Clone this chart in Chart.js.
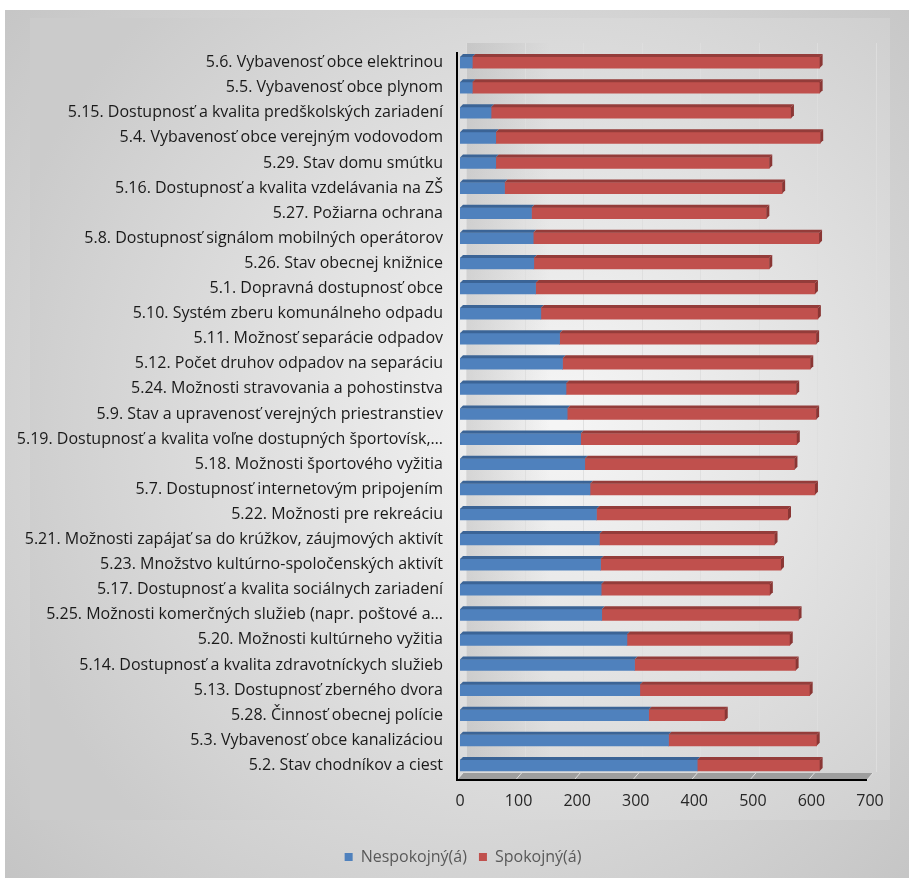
<!DOCTYPE html>
<html>
<head>
<meta charset="utf-8">
<script src="https://cdn.jsdelivr.net/npm/chart.js@4/dist/chart.umd.min.js"></script>
<style>
  html, body { margin: 0; padding: 0; background: #fff; }
  #wrap { position: relative; width: 909px; height: 881px; }
</style>
</head>
<body>
<div id="wrap"><canvas id="myChart" width="909" height="881"></canvas></div>
<script>
'use strict';

// data
var categories = [
  '5.6. Vybavenosť obce elektrinou',
  '5.5. Vybavenosť obce plynom',
  '5.15. Dostupnosť a kvalita predškolských zariadení',
  '5.4. Vybavenosť obce verejným vodovodom',
  '5.29. Stav domu smútku',
  '5.16. Dostupnosť a kvalita vzdelávania na ZŠ',
  '5.27. Požiarna ochrana',
  '5.8. Dostupnosť signálom mobilných operátorov',
  '5.26. Stav obecnej knižnice',
  '5.1. Dopravná dostupnosť obce',
  '5.10. Systém zberu komunálneho odpadu',
  '5.11. Možnosť separácie odpadov',
  '5.12. Počet druhov odpadov na separáciu',
  '5.24. Možnosti stravovania a pohostinstva',
  '5.9. Stav a upravenosť verejných priestranstiev',
  '5.19. Dostupnosť a kvalita voľne dostupných športovísk,…',
  '5.18. Možnosti športového vyžitia',
  '5.7. Dostupnosť internetovým pripojením',
  '5.22. Možnosti pre rekreáciu',
  '5.21. Možnosti zapájať sa do krúžkov, záujmových aktivít',
  '5.23. Množstvo kultúrno-spoločenských aktivít',
  '5.17. Dostupnosť a kvalita sociálnych zariadení',
  '5.25. Možnosti komerčných služieb (napr. poštové a…',
  '5.20. Možnosti kultúrneho vyžitia',
  '5.14. Dostupnosť a kvalita zdravotníckych služieb',
  '5.13. Dostupnosť zberného dvora',
  '5.28. Činnosť obecnej polície',
  '5.3. Vybavenosť obce kanalizáciou',
  '5.2. Stav chodníkov a ciest'
];
var nespokojny = [21, 21, 53, 61, 61, 76, 122, 125, 126, 129, 138, 170, 175, 181, 183,
  206, 213, 222, 233, 238, 240, 241, 242, 285, 298, 307, 322, 356, 405];
var spokojny = [593, 593, 512, 554, 467, 474, 401, 488, 402, 477, 473, 438, 423, 393, 425,
  369, 358, 384, 327, 299, 308, 288, 336, 278, 275, 290, 130, 253, 209];
var xTicks = [0, 100, 200, 300, 400, 500, 600, 700];
var seriesNames = ['Nespokojný(á)', 'Spokojný(á)'];

var FONT = '"Open Sans", sans-serif';
var DEPTH = 3;

//background, back wall, floor, 3d faces
var backgroundPlugin = {
  id: 'bg',
  afterLayout: function(chart) {
    // legend sits a bit right of centre in the original
    var lg = chart.legend;
    if (lg) {
      lg.left += 24;
      lg.right += 24;
    }
  },
  beforeDraw: function(chart) {
    var c = chart.ctx;
    var w = chart.width, h = chart.height;
    c.save();
    c.fillStyle = '#ffffff';
    c.fillRect(0, 0, w, h);
    var g = c.createRadialGradient(470, 430, 20, 470, 430, 650);
    g.addColorStop(0, '#f2f2f2');
    g.addColorStop(1, '#c4c4c4');
    c.fillStyle = g;
    c.fillRect(5, 10, w - 5, 868);
    var g2 = c.createRadialGradient(560, 420, 10, 560, 420, 580);
    g2.addColorStop(0, '#f5f5f5');
    g2.addColorStop(1, '#cbcbcb');
    c.fillStyle = g2;
    c.fillRect(30, 18, 860, 802);
    c.restore();
  },
  beforeDatasetsDraw: function(chart) {
    var c = chart.ctx;
    var xs = chart.scales.x;
    var a = chart.chartArea;
    c.save();
    // back wall left shade
    var gw = c.createLinearGradient(a.left, 0, a.left + 90, 0);
    gw.addColorStop(0, 'rgba(160,160,160,0.35)');
    gw.addColorStop(1, 'rgba(160,160,160,0)');
    c.fillStyle = gw;
    c.fillRect(a.left + 6, a.top - 7, 90, a.bottom - a.top);
    // gridlines on the back wall
    c.strokeStyle = 'rgba(222,222,222,0.9)';
    c.lineWidth = 1;
    xTicks.forEach(function(v) {
      var px = Math.round(xs.getPixelForValue(v)) + 6.5;
      c.beginPath();
      c.moveTo(px, a.top - 7);
      c.lineTo(px, a.bottom - 6);
      c.stroke();
    });
    // floor
    var fl = a.left - 3, fr = xs.getPixelForValue(700) - 3, fb = a.bottom + 2;
    c.fillStyle = '#9e9e9e';
    c.beginPath();
    c.moveTo(fl, fb);
    c.lineTo(fr, fb);
    c.lineTo(fr + 6, fb - 7);
    c.lineTo(fl + 6, fb - 7);
    c.closePath();
    c.fill();
    c.strokeStyle = 'rgba(230,230,230,0.9)';
    xTicks.forEach(function(v) {
      var px = xs.getPixelForValue(v) - 3;
      c.beginPath();
      c.moveTo(px, fb);
      c.lineTo(px + 6, fb - 7);
      c.stroke();
    });
    c.restore();
  },
  afterDatasetsDraw: function(chart) {
    var c = chart.ctx;
    var a = chart.chartArea;
    var xs = chart.scales.x;
    var tops = ['#3b6496', '#943c3a'];
    var sides = ['#345a88', '#8a3634'];
    c.save();
    chart.data.datasets.forEach(function(ds, di) {
      chart.getDatasetMeta(di).data.forEach(function(bar) {
        var p = bar.getProps(['x', 'y', 'base', 'height'], true);
        var top = p.y - p.height / 2;
        var bot = p.y + p.height / 2;
        c.fillStyle = tops[di];
        c.beginPath();
        c.moveTo(p.base, top);
        c.lineTo(p.x, top);
        c.lineTo(p.x + DEPTH, top - DEPTH);
        c.lineTo(p.base + DEPTH, top - DEPTH);
        c.closePath();
        c.fill();
        if (di === chart.data.datasets.length - 1) {
          c.fillStyle = sides[di];
          c.beginPath();
          c.moveTo(p.x, top);
          c.lineTo(p.x + DEPTH, top - DEPTH);
          c.lineTo(p.x + DEPTH, bot - DEPTH);
          c.lineTo(p.x, bot);
          c.closePath();
          c.fill();
        }
      });
    });
    // axis lines
    c.strokeStyle = '#000';
    c.lineWidth = 2;
    c.beginPath();
    c.moveTo(a.left - 3, a.top + 2);
    c.lineTo(a.left - 3, a.bottom + 2);
    c.lineTo(xs.getPixelForValue(700) - 3, a.bottom + 2);
    c.stroke();
    c.restore();
  }
};

var ctx = document.getElementById('myChart').getContext('2d');
var chart = new Chart(ctx, {
  type: 'bar',
  data: {
    labels: categories,
    datasets: [{
      label: seriesNames[0],
      data: nespokojny,
      backgroundColor: '#4f81bd',
      barThickness: 11
    }, {
      label: seriesNames[1],
      data: spokojny,
      backgroundColor: '#c0504d',
      barThickness: 11
    }]
  },
  options: {
    indexAxis: 'y',
    responsive: false,
    animation: false,
    layout: { padding: { top: 50, right: 39, left: 8, bottom: 6 } },
    scales: {
      x: {
        stacked: true,
        min: 0,
        max: 700,
        afterBuildTicks: function(scale) {
          scale.ticks = xTicks.map(function(v) { return { value: v }; });
        },
        afterFit: function(scale) { scale.height = 59; },
        grid: { display: false, drawTicks: false },
        border: { display: false },
        ticks: {
          padding: 14,
          color: '#262626',
          font: { family: FONT, size: 16 }
        }
      },
      y: {
        stacked: true,
        afterFit: function(scale) { scale.width = 452; },
        grid: { display: false, drawTicks: false },
        border: { display: false },
        ticks: {
          padding: 17,
          color: '#1a1a1a',
          autoSkip: false,
          font: { family: FONT, size: 16 }
        }
      }
    },
    plugins: {
      legend: {
        position: 'bottom',
        labels: {
          boxWidth: 8,
          boxHeight: 8,
          padding: 12,
          color: '#595959',
          font: { family: FONT, size: 16 }
        }
      },
      tooltip: { enabled: false }
    }
  },
  plugins: [backgroundPlugin]
});
</script>
</body>
</html>
